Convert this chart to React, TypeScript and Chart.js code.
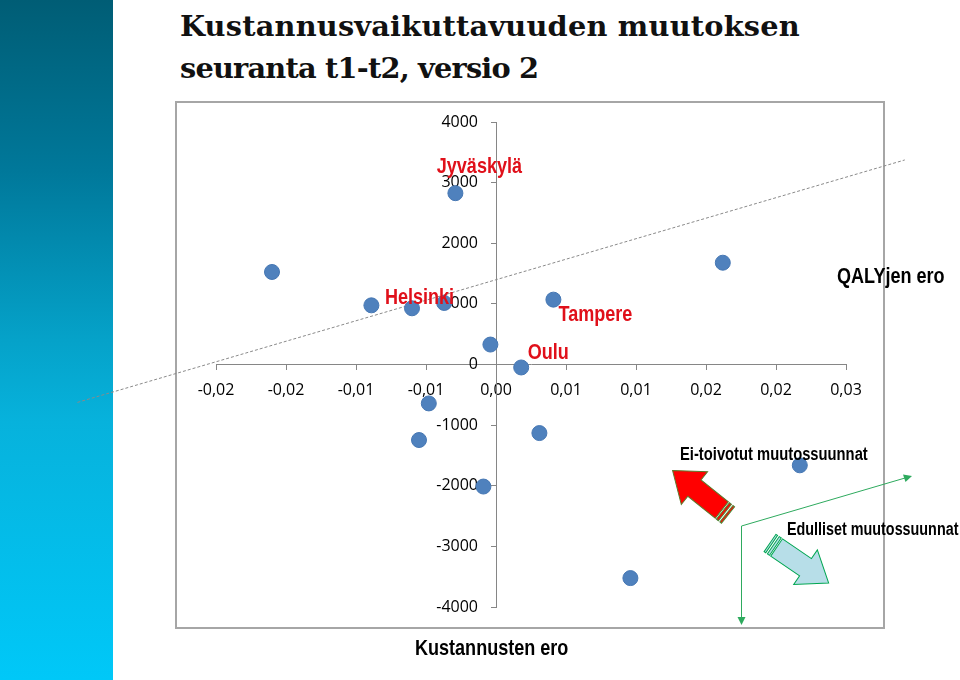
import React, { useEffect, useRef } from 'react';
import { Chart, registerables } from 'chart.js';

Chart.register(...registerables);

// ---- data ----
const QALY_DIFF = [-0.0160, -0.0089, -0.0060, -0.0037, -0.0029, 0.0041, -0.0004, 0.0018, -0.0048, -0.0055, -0.0009, 0.0031, 0.0162, 0.0217, 0.0096];
const COST_DIFF = [1526, 976, 927, 1015, 2826, 1070, 329, -49, -642, -1246, -2013, -1131, 1679, -1663, -3523];
const POINT_LABELS = ['', '', 'Helsinki', '', 'Jyväskylä', 'Tampere', '', 'Oulu', '', '', '', '', '', '', ''];
const TREND_X = [-0.0299, 0.0292];
const TREND_Y = [-625, 3374];
const X_TICK_LABELS = ['-0,02', '-0,02', '-0,01', '-0,01', '0,00', '0,01', '0,01', '0,02', '0,02', '0,03'];
const Y_TICK_LABELS = ['-4000', '-3000', '-2000', '-1000', '0', '1000', '2000', '3000', '4000'];
const TITLE_LINES = ['Kustannusvaikuttavuuden muutoksen', 'seuranta t1-t2, versio 2'];
const X_TITLE = 'QALYjen ero';
const Y_TITLE = 'Kustannusten ero';
const NOTE_BAD = 'Ei-toivotut muutossuunnat';
const NOTE_GOOD = 'Edulliset muutossuunnat';

// ---- styling / placement (not data) ----
const LABEL_OFFSETS: Record<string, { dx: number; dy: number }> = {
  'Helsinki': { dx: 7.5, dy: -4 },
  'Jyväskylä': { dx: 24, dy: -20 },
  'Tampere': { dx: 42, dy: 21 },
  'Oulu': { dx: 27, dy: -8 },
};
const NARROW = 0.82;
const AXIS_GRAY = '#868686';
const Y_LABEL_GAP = 18;

const labelPlugin = {
  id: 'cityLabels',
  beforeDraw(chart: any) {
    // y axis sits at x = 0: move its tick labels left of the tick marks
    const ys = chart.scales.y;
    const items = ys.getLabelItems();
    if (!(items as any)._shifted) {
      items.forEach((it: any) => { it.options.translation[0] -= Y_LABEL_GAP; });
      (items as any)._shifted = true;
    }
  },
  afterDatasetsDraw(chart: any) {
    const meta = chart.getDatasetMeta(0);
    const ctx = chart.ctx;
    POINT_LABELS.forEach((txt, i) => {
      if (!txt) return;
      const el = meta.data[i];
      const off = LABEL_OFFSETS[txt] || { dx: 0, dy: 0 };
      ctx.save();
      ctx.font = 'bold 22px "Liberation Sans", Arial, sans-serif';
      ctx.fillStyle = '#e0101a';
      ctx.textAlign = 'center';
      ctx.textBaseline = 'alphabetic';
      ctx.translate(el.x + off.dx, el.y + off.dy);
      ctx.scale(NARROW, 1);
      ctx.fillText(txt, 0, 0);
      ctx.restore();
    });
  },
};

function NarrowText({ text, left, baseline, size }: { text: string; left: number; baseline: number; size: number }) {
  return (
    <div
      style={{
        position: 'absolute',
        left,
        top: baseline - 0.844 * size,
        fontFamily: '"Liberation Sans", Arial, sans-serif',
        fontWeight: 'bold',
        fontSize: size,
        lineHeight: `${size}px`,
        whiteSpace: 'nowrap',
        color: '#000',
        transform: `scaleX(${NARROW})`,
        transformOrigin: 'left top',
      }}
    >
      {text}
    </div>
  );
}

function BlockArrow({ x, y, angle, len, fill, stroke, stripe }: { x: number; y: number; angle: number; len: number; fill: string; stroke: string; stripe: string }) {
  const hw = 10.5;
  const HW = 21;
  const HL = 28;
  const s = 8;
  const pts = [
    [s, -hw], [len - HL, -hw], [len - HL, -HW], [len, 0], [len - HL, HW], [len - HL, hw], [s, hw],
  ].map((p) => p.join(',')).join(' ');
  return (
    <g transform={`translate(${x},${y}) rotate(${angle})`}>
      <polygon points={pts} fill={fill} stroke={stroke} strokeWidth={1} />
      <rect x={0} y={-hw} width={2} height={2 * hw} fill={fill} stroke={stripe} strokeWidth={1} />
      <rect x={4} y={-hw} width={2.5} height={2 * hw} fill={fill} stroke={stripe} strokeWidth={1} />
    </g>
  );
}

export default function App() {
  const canvasRef = useRef<HTMLCanvasElement | null>(null);

  useEffect(() => {
    const canvas = canvasRef.current;
    if (!canvas) return;
    const fontTick = { family: '"Open Sans", sans-serif', size: 16 };
    const chart = new Chart(canvas, {
      type: 'scatter',
      data: {
        datasets: [
          {
            data: QALY_DIFF.map((x, i) => ({ x, y: COST_DIFF[i] })),
            backgroundColor: '#4F81BD',
            borderColor: '#4677b3',
            borderWidth: 1,
            pointRadius: 7.5,
            pointHoverRadius: 7.5,
          },
          {
            type: 'line',
            data: TREND_X.map((x, i) => ({ x, y: TREND_Y[i] })),
            borderColor: '#8a8a8a',
            borderWidth: 1,
            borderDash: [3, 2],
            pointRadius: 0,
            showLine: true,
            fill: false,
            clip: false,
          } as any,
        ],
      },
      options: {
        responsive: false,
        animation: false,
        devicePixelRatio: 1,
        events: [],
        layout: { padding: { left: 216, right: 114, top: 122, bottom: 73 } },
        plugins: { legend: { display: false }, tooltip: { enabled: false } },
        scales: {
          x: {
            type: 'linear',
            position: { y: 0 } as any,
            min: -0.02,
            max: 0.025,
            ticks: {
              stepSize: 0.005,
              autoSkip: false,
              maxRotation: 0,
              callback: (_v: any, i: number) => X_TICK_LABELS[i],
              font: fontTick,
              color: '#000',
              padding: 11,
            },
            grid: { drawOnChartArea: false, drawTicks: true, tickLength: 5, color: AXIS_GRAY },
            border: { color: AXIS_GRAY, width: 1 },
          },
          y: {
            type: 'linear',
            position: { x: 0 } as any,
            min: -4000,
            max: 4000,
            ticks: {
              stepSize: 1000,
              autoSkip: false,
              callback: (_v: any, i: number) => Y_TICK_LABELS[i],
              font: fontTick,
              color: '#000',
              padding: 13,
            },
            grid: { drawOnChartArea: false, drawTicks: true, tickLength: 5, color: AXIS_GRAY },
            border: { color: AXIS_GRAY, width: 1 },
          },
        },
      },
      plugins: [labelPlugin],
    } as any);
    return () => chart.destroy();
  }, []);

  return (
    <div style={{ position: 'absolute', left: 0, top: 0, width: 960, height: 680, overflow: 'hidden', background: '#fff' }}>
      <div
        style={{
          position: 'absolute', left: 0, top: 0, width: 113, height: 680,
          background: 'linear-gradient(to bottom, #005d75 0%, #00789a 25%, #05a2c9 50%, #07b2dc 62%, #00c8f8 100%)',
        }}
      />
      <div style={{ position: 'absolute', left: 175, top: 101, width: 710, height: 528, border: '2px solid #a6a6a6', boxSizing: 'border-box' }} />
      <div
        style={{
          position: 'absolute', left: 180, top: 5,
          fontFamily: '"DejaVu Serif", serif', fontWeight: 'bold', fontSize: 28.8, lineHeight: '42px', color: '#111',
          whiteSpace: 'nowrap',
        }}
      >
        <div style={{ letterSpacing: 0.2 }}>{TITLE_LINES[0]}</div>
        <div style={{ letterSpacing: -0.8 }}>{TITLE_LINES[1]}</div>
      </div>
      <canvas ref={canvasRef} width={960} height={680} style={{ position: 'absolute', left: 0, top: 0, width: 960, height: 680 }} />
      <svg width={960} height={680} style={{ position: 'absolute', left: 0, top: 0 }}>
        <BlockArrow x={728} y={515} angle={218.7} len={71} fill="#ff0000" stroke="#5a7a2a" stripe="#4f8a3a" />
        <BlockArrow x={770} y={543} angle={34.3} len={71} fill="#b7dee8" stroke="#00a651" stripe="#00a651" />
        <g stroke="#2eaa5e" strokeWidth={1} fill="#2eaa5e">
          <line x1={741.5} y1={526} x2={741.5} y2={618} />
          <polygon points="737.5,617 745.5,617 741.5,625" stroke="none" />
          <line x1={741.5} y1={526} x2={905} y2={478} />
          <polygon points="912,476 903,474.5 905.5,482" stroke="none" />
        </g>
      </svg>
      <NarrowText text={X_TITLE} left={836.5} baseline={284} size={22} />
      <NarrowText text={Y_TITLE} left={415} baseline={656} size={22} />
      <NarrowText text={NOTE_BAD} left={680} baseline={460} size={18} />
      <NarrowText text={NOTE_GOOD} left={786.5} baseline={535.5} size={17.5} />
    </div>
  );
}
